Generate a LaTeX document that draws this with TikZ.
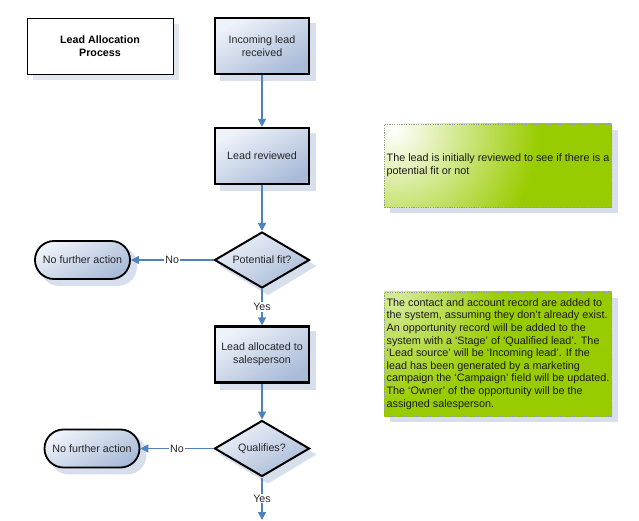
\documentclass[tikz,border=0pt]{standalone}
\usepackage{fontspec}
\setmainfont{Liberation Sans}
\usetikzlibrary{shapes.geometric,arrows.meta}
\pgfdeclarelayer{bg}
\pgfdeclarelayer{under}
\pgfsetlayers{bg,under,main}
\definecolor{arrowblue}{HTML}{4F81BD}
\definecolor{boxlight}{HTML}{EEF2F9}
\definecolor{boxdark}{HTML}{A9BBD8}
\definecolor{shadowblue}{HTML}{D8DFEC}
\definecolor{notegreen}{HTML}{99CC00}
\definecolor{titleshadow}{HTML}{E2E6EE}
\definecolor{notetext}{HTML}{1A1A1A}
\pgfdeclareradialshading{spotA}{\pgfpoint{0bp}{0bp}}{color(0bp)=(white); color(12bp)=(notegreen); color(50bp)=(notegreen)}
\pgfdeclareradialshading{spotB}{\pgfpoint{0bp}{0bp}}{color(0bp)=(white!60!notegreen); color(9bp)=(notegreen); color(50bp)=(notegreen)}
\tikzset{
  nodefont/.style={font=\fontsize{10.7}{12.8}\selectfont},
  bluefill/.style={shade, shading=axis, top color=boxlight, bottom color=boxdark, shading angle=30},
  titlebox/.style={draw=black, line width=0.8pt, fill=white, minimum width=146, minimum height=56,
    align=center, font=\fontsize{10.7}{12.8}\selectfont\bfseries},
  procbox/.style={draw=black, line width=2.2pt, minimum width=94, minimum height=56, align=center,
    nodefont, bluefill, text=black!85},
  decision/.style={diamond, draw=black, line width=2pt, minimum width=95, minimum height=56,
    aspect=1.7, inner sep=0pt, nodefont, bluefill, text=black!85},
  terminal/.style={draw=black, line width=1.8pt, rounded corners=19, minimum width=95, minimum height=38,
    nodefont, bluefill, text=black!85},
  note/.style={draw=gray!80, line width=0.6pt, dash pattern=on 1.2pt off 1.2pt,
    minimum width=226, align=left, inner xsep=2pt, text=notetext,
    font=\fontsize{10.8}{12.6}\selectfont},
  shadowfill/.style={fill=shadowblue},
  flow/.style={draw=arrowblue, line width=1.3pt, -{Triangle[length=8pt,width=8pt]}},
  lbl/.style={fill=white, inner sep=1pt, nodefont, text=black!85},
}
\begin{document}
\begin{tikzpicture}[x=1pt,y=-1pt]
\begin{pgfonlayer}{bg}
\useasboundingbox[fill=white] (0,0) rectangle (639,520);
\end{pgfonlayer}

\node[titlebox] (title) at (100,46) {Lead Allocation\\Process};

\node[procbox] (in) at (262,46) {Incoming lead\\received};
\node[procbox] (rev) at (262,156) {Lead reviewed};
\node[decision] (fit) at (262,260) {Potential fit?};
\node[terminal] (nfa1) at (82.5,260) {No further action};
\node[procbox] (alloc) at (262,354.5) {Lead allocated to\\salesperson};
\node[decision] (qual) at (262,448.5) {Qualifies?};
\node[terminal] (nfa2) at (92,448.5) {No further action};
\coordinate (end) at (262,520);

\node[note, minimum height=83] (note1) at (498,165.5)
  {The lead is initially reviewed to see if there is a\\potential fit or not};
\node[note, minimum height=124] (note2) at (498,354)
  {The contact and account record are added to\\
   the system, assuming they don't already exist.\\
   An opportunity record will be added to the\\
   system with a `Stage' of `Qualified lead'. The\\
   `Lead source' will be `Incoming lead'. If the\\
   lead has been generated by a marketing\\
   campaign the `Campaign' field will be updated.\\
   The `Owner' of the opportunity will be the\\
   assigned salesperson.};

\begin{pgfonlayer}{under}
  % shadows
  \fill[titleshadow] ([shift={(6,6)}]title.north west) rectangle ([shift={(6,6)}]title.south east);
  \foreach \n in {in,rev,alloc,note1,note2}
    \fill[shadowfill] ([shift={(6,6)}]\n.north west) rectangle ([shift={(6,6)}]\n.south east);
  \foreach \n in {fit,qual}
    \fill[shadowfill] ([shift={(6,6)}]\n.north) -- ([shift={(6,6)}]\n.east)
      -- ([shift={(6,6)}]\n.south) -- ([shift={(6,6)}]\n.west) -- cycle;
  \foreach \n in {nfa1,nfa2}
    \fill[shadowfill, rounded corners=19] ([shift={(6,6)}]\n.north west) rectangle ([shift={(6,6)}]\n.south east);
  % note fills with light spot at the top left
  \foreach \n/\s in {note1/spotA,note2/spotB} {
    \begin{scope}
      \clip (\n.north west) rectangle (\n.south east);
      \shade[shading=\s] ([shift={(10,6)}]\n.north west) circle (300);
    \end{scope}
  }
\end{pgfonlayer}

\draw[flow] (in) -- (rev);
\draw[flow] (rev) -- (fit);
\draw[flow] (fit) -- node[lbl] {No} (nfa1);
\draw[flow] (fit) -- node[lbl] {Yes} (alloc);
\draw[flow] (alloc) -- (qual);
\draw[flow] (qual) -- node[lbl] {No} (nfa2);
\draw[flow] (qual) -- node[lbl] {Yes} (end);
\end{tikzpicture}
\end{document}
